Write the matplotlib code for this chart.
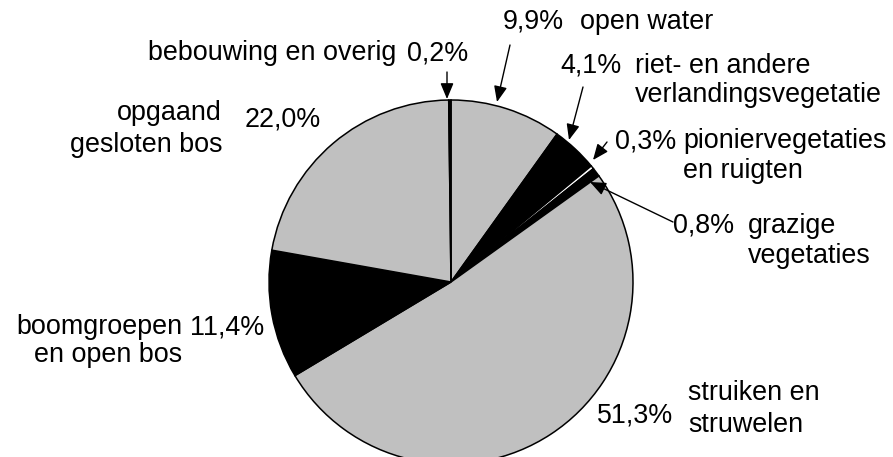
import matplotlib
matplotlib.use("Agg")
import matplotlib.pyplot as plt

# ---- data ----
categories = ["open water", "riet- en andere verlandingsvegetatie",
              "pioniervegetaties en ruigten", "grazige vegetaties",
              "struiken en struwelen", "boomgroepen en open bos",
              "opgaand gesloten bos", "bebouwing en overig"]
values = [9.9, 4.1, 0.3, 0.8, 51.3, 11.4, 22.0, 0.2]
pct_labels = ["9,9%", "4,1%", "0,3%", "0,8%", "51,3%", "11,4%", "22,0%", "0,2%"]
name_lines = [["open water"], ["riet- en andere", "verlandingsvegetatie"],
              ["pioniervegetaties", "en ruigten"], ["grazige", "vegetaties"],
              ["struiken en", "struwelen"], ["boomgroepen", "en open bos"],
              ["opgaand", "gesloten bos"], ["bebouwing en overig"]]
colors = ["#c0c0c0", "#000000", "#ffffff", "#000000",
          "#c0c0c0", "#000000", "#c0c0c0", "#000000"]

# ---- layout (image pixel coords, y down) ----
W, H = 893, 457
FS = 19.4
plt.rcParams['font.family'] = ['Liberation Sans', 'DejaVu Sans']
fig = plt.figure(figsize=(W / 100, H / 100), dpi=100)
ax = fig.add_axes([0, 0, 1, 1])
ax.set_xlim(0, W)
ax.set_ylim(0, H)
ax.set_aspect('equal')
ax.axis('off')

cx, cy, R = 451, 282, 182
ax.pie(values, colors=colors, startangle=90, counterclock=False,
       center=(cx, H - cy), radius=R,
       wedgeprops=dict(edgecolor='black', linewidth=1.1))
ax.set_xlim(0, W)
ax.set_ylim(0, H)

def T(x, y, s, ha='left'):
    ax.text(x, H - y, s, ha=ha, va='baseline', fontsize=FS, color='black')

# percentage label positions (left x or right x, baseline y)
pct_pos = [(503, 29, 'left'), (560, 73, 'left'), (615, 148, 'left'),
           (673, 233, 'left'), (597, 423, 'left'), (190, 334, 'left'),
           (245, 127, 'left'), (407, 61, 'left')]
name_pos = [(580, 29, 'left'), (635, 73, 'left'), (683, 148, 'left'),
            (748, 233, 'left'), (688, 400, 'left'), (182, 334, 'right'),
            (222, 120, 'right'), (148, 60, 'left')]
line_gap = [29, 29, 30, 30, 32, 28, 32, 29]

for i in range(len(values)):
    px, py, pha = pct_pos[i]
    T(px, py, pct_labels[i], pha)
    nx, ny, nha = name_pos[i]
    for j, line in enumerate(name_lines[i]):
        T(nx, ny + j * line_gap[i], line, nha)

# arrows: (start) -> (tip)
arrows = [((510, 45), (497, 102)), ((583, 87), (569, 140)),
          ((607, 142), (593, 160)), ((673, 222), (590, 182)),
          ((447, 72), (447, 99))]
for (sx, sy), (tx, ty) in arrows:
    ax.annotate("", xy=(tx, H - ty), xytext=(sx, H - sy),
                arrowprops=dict(arrowstyle='-|>,head_length=0.6,head_width=0.25',
                                color='black', lw=1.0,
                                mutation_scale=16, shrinkA=0, shrinkB=0))

fig.savefig("out.png", dpi=100)
